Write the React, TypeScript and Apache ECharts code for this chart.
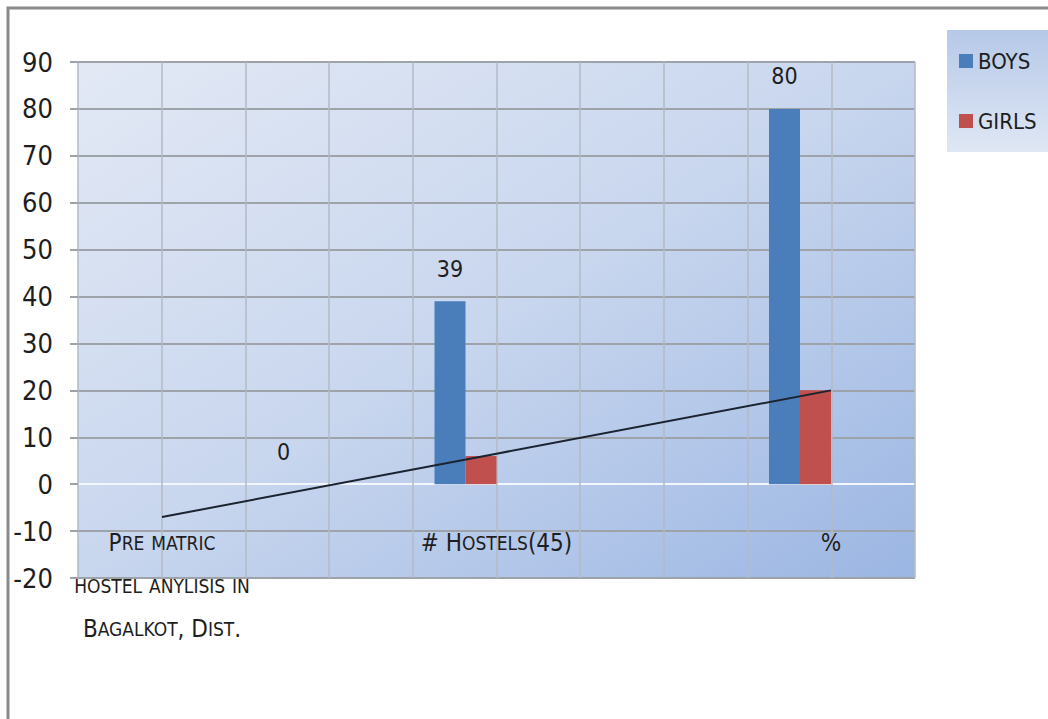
import React, { useEffect, useRef } from "react";
import * as echarts from "echarts";

const categories = ["Pre matric\nhostel anylisis in\nBagalkot, Dist.", "# Hostels(45)", "%"];
const boys = [0, 39, 80];
const girls = [0, 6, 20];
const trend = [-7, 6.5, 20];
const yTicks = { min: -20, max: 90, step: 10 };
const seriesNames = ["BOYS", "GIRLS"];

const FONT = "'Liberation Sans Narrow', 'DejaVu Sans Condensed', 'Arial Narrow', sans-serif";

const toSmallCaps = (s: string) => {
  let out = "";
  let run = "";
  let runType = "";
  const flush = () => {
    if (run) out += `{${runType}|${run}}`;
    run = "";
  };
  for (const ch of s) {
    if (ch === "\n") {
      flush();
      out += "\n";
      runType = "";
      continue;
    }
    const t = /[a-z]/.test(ch) ? "s" : "b";
    if (t !== runType) {
      flush();
      runType = t;
    }
    run += t === "s" ? ch.toUpperCase() : ch;
  }
  flush();
  return out;
};

export default function App() {
  const ref = useRef<HTMLDivElement>(null);
  useEffect(() => {
    if (!ref.current) return;
    const chart = echarts.init(ref.current, undefined, { renderer: "svg" });
    const grayLine = "#9ea3aa";
    const splitColors = [];
    for (let v = yTicks.min; v <= yTicks.max; v += yTicks.step) splitColors.push(v === 0 ? "#f3f6fb" : grayLine);
    chart.setOption({
      animation: false,
      backgroundColor: "#ffffff",
      textStyle: { fontFamily: FONT },
      graphic: [
        {
          type: "rect",
          shape: { x: 8, y: 8, width: 1100, height: 800 },
          style: { fill: "none", stroke: "#8a8a8a", lineWidth: 3 },
          z: 100,
        },
      ],
      legend: {
        data: seriesNames,
        orient: "vertical",
        left: 947,
        top: 30,
        padding: [19, 13, 19, 12],
        itemGap: 36,
        itemWidth: 14,
        itemHeight: 14,
        icon: "rect",
        backgroundColor: new echarts.graphic.LinearGradient(0, 0, 0, 1, [
          { offset: 0, color: "#b6c9e8" },
          { offset: 1, color: "#dfe7f4" },
        ]),
        textStyle: { fontSize: 22, lineHeight: 24, color: "#1e1e1e", fontFamily: FONT },
      },
      grid: [
        { left: 162, right: 217, top: 62, bottom: 141, containLabel: false, outerBoundsMode: "none" },
        {
          left: 78,
          right: 133,
          top: 62,
          bottom: 141,
          containLabel: false,
          outerBoundsMode: "none",
          show: true,
          borderWidth: 0,
          backgroundColor: new echarts.graphic.LinearGradient(0, 0, 1, 1, [
            { offset: 0, color: "#e3e9f5" },
            { offset: 0.5, color: "#c8d6ee" },
            { offset: 1, color: "#9bb6e3" },
          ]),
        },
      ],
      xAxis: [
        {
          gridIndex: 0,
          type: "category",
          data: categories,
          boundaryGap: false,
          axisLine: { show: false, onZero: false },
          axisTick: { show: false },
          splitLine: { show: false },
          axisLabel: {
            interval: 0,
            margin: -57,
            lineHeight: 43,
            color: "#1e1e1e",
            formatter: (v: string) => toSmallCaps(v),
            rich: {
              b: { fontSize: 24, lineHeight: 43, fontFamily: FONT, color: "#1e1e1e" },
              s: { fontSize: 19, lineHeight: 43, fontFamily: FONT, color: "#1e1e1e" },
            },
          },
        },
        {
          gridIndex: 1,
          type: "value",
          min: 0,
          max: 10,
          interval: 1,
          axisLine: { show: false },
          axisTick: { show: false },
          axisLabel: { show: false },
          splitLine: { show: true, lineStyle: { color: "#b3bac5", width: 1.5 } },
        },
      ],
      yAxis: [
        {
          gridIndex: 0,
          type: "value",
          min: yTicks.min,
          max: yTicks.max,
          interval: yTicks.step,
          show: false,
          splitLine: { show: false },
        },
        {
          gridIndex: 1,
          type: "value",
          min: yTicks.min,
          max: yTicks.max,
          interval: yTicks.step,
          axisLine: { show: false },
          axisTick: { show: true, length: 8, lineStyle: { color: grayLine, width: 2 } },
          axisLabel: { margin: 25, fontSize: 27, color: "#1e1e1e", fontFamily: FONT },
          splitLine: { show: true, lineStyle: { color: splitColors, width: 2 } },
        },
      ],
      series: [
        {
          name: seriesNames[0],
          type: "bar",
          xAxisIndex: 0,
          yAxisIndex: 0,
          barWidth: 31,
          barGap: "0%",
          itemStyle: { color: "#4a7ebb" },
          label: {
            show: true,
            position: "top",
            distance: 21,
            fontSize: 23,
            color: "#1e1e1e",
            fontFamily: FONT,
          },
          data: boys.map((v, i) => (i === 0 ? { value: v, label: { offset: [168, 0] } } : v)),
          z: 3,
        },
        {
          name: seriesNames[1],
          type: "bar",
          xAxisIndex: 0,
          yAxisIndex: 0,
          barWidth: 31,
          barGap: "0%",
          itemStyle: { color: "#c0504d" },
          data: girls,
          z: 3,
        },
        { name: "_a", type: "bar", xAxisIndex: 0, yAxisIndex: 0, barWidth: 31, barGap: "0%", data: [] },
        { name: "_b", type: "bar", xAxisIndex: 0, yAxisIndex: 0, barWidth: 31, barGap: "0%", data: [] },
        {
          name: "trend",
          type: "line",
          xAxisIndex: 0,
          yAxisIndex: 0,
          data: trend,
          symbol: "none",
          lineStyle: { color: "#1b2330", width: 2 },
          z: 5,
        },
      ],
    });
    return () => chart.dispose();
  }, []);
  return <div ref={ref} style={{ position: "fixed", left: 0, top: 0, width: 1048, height: 719 }} />;
}
